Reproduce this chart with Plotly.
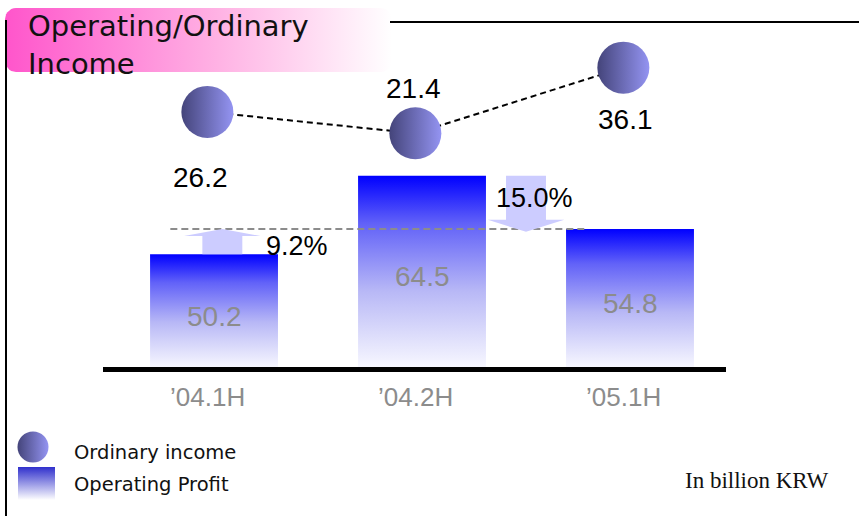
import numpy as np
import plotly.graph_objects as go

# ---------------- data ----------------
categories = ["’04.1H", "’04.2H", "’05.1H"]
operating_profit = [50.2, 64.5, 54.8]
ordinary_income = [26.2, 21.4, 36.1]
change_labels = ["9.2%", "15.0%"]
title_text = "Operating/Ordinary<br>Income"
legend_labels = ["Ordinary income", "Operating Profit"]
unit_text = "In billion KRW"

# ---------------- geometry / style ----------------
W, H = 859, 516
BASE = 29.5                 # bar floor value on main y axis
X_RANGE = [-1.029, 3.101]
Y_RANGE = [2.54, 96.53]
Y2_RANGE = [-64.2, 51.23]
BAR_W = 0.615
CIRCLE_DX = -0.032
NUM_FONT = "Liberation Sans, Arial, sans-serif"
TXT_FONT = "DejaVu Sans, sans-serif"

BAR_SCALE = [[0, "#F8F8FF"], [0.4, "#B8B8F6"], [0.75, "#6262F8"], [1, "#0000FF"]]
ARROW_COLOR = "#CCCCFF"
SPHERE_LIGHT = "#9494F2"
SPHERE_DARK = "#44447A"


def px(x):
    return x / W


def py(y):
    return 1 - y / H


fig = go.Figure()

# bars (gradient filled)
for i, v in enumerate(operating_profit):
    fig.add_trace(go.Scatter(
        x=[i - BAR_W / 2, i + BAR_W / 2, i + BAR_W / 2, i - BAR_W / 2, i - BAR_W / 2],
        y=[BASE, BASE, v, v, BASE],
        fill="toself", mode="lines", line=dict(width=0),
        fillgradient=dict(type="vertical", colorscale=BAR_SCALE, start=BASE, stop=v),
        hoverinfo="skip", showlegend=False))

# reference dashed line at last period level
fig.add_trace(go.Scatter(
    x=[-0.21, 1.78], y=[operating_profit[2]] * 2, mode="lines",
    line=dict(color="#8C8C8C", width=2, dash="7px,4px"),
    hoverinfo="skip", showlegend=False))


def arrow(cx, y_from, y_tip, head_h, sh=0.096, hw=0.184):
    d = 1 if y_tip > y_from else -1
    yb = y_tip - d * head_h
    xs = [cx - sh, cx + sh, cx + sh, cx + hw, cx, cx - hw, cx - sh, cx - sh]
    ys = [y_from, y_from, yb, yb, y_tip, yb, yb, y_from]
    return go.Scatter(x=xs, y=ys, fill="toself", mode="lines", line=dict(width=0),
                      fillcolor=ARROW_COLOR, hoverinfo="skip", showlegend=False)


fig.add_trace(arrow(0.04, operating_profit[0], operating_profit[2], 1.27))
fig.add_trace(arrow(1.5, operating_profit[1], operating_profit[2] - 0.5, 2.2))

# ordinary income spheres (gradient: dark left -> light right)
fig.add_trace(go.Scatter(
    x=[i + CIRCLE_DX for i in range(len(categories))], y=ordinary_income, yaxis="y2",
    mode="lines+markers",
    line=dict(color="black", width=2, dash="6px,4px"),
    marker=dict(size=52, color=SPHERE_DARK,
                gradient=dict(type="horizontal", color=SPHERE_LIGHT),
                line=dict(width=0)),
    hoverinfo="skip", showlegend=False))

# ---------------- decorations on pixel overlay axes ----------------
# title box with rounded corners
x0, x1, y0, y1, r = 5, 392, 8, 72, 11
t = np.linspace(0, np.pi / 2, 8)
bx, by = [], []
for cx, cy, a0 in [(x1 - r, y0 + r, -np.pi / 2), (x1 - r, y1 - r, 0),
                   (x0 + r, y1 - r, np.pi / 2), (x0 + r, y0 + r, np.pi)]:
    bx += list(cx + r * np.cos(a0 + t))
    by += list(cy + r * np.sin(a0 + t))
bx.append(bx[0]); by.append(by[0])
fig.add_trace(go.Scatter(
    x=bx, y=by, xaxis="x3", yaxis="y3", fill="toself", mode="lines", line=dict(width=0),
    fillgradient=dict(type="horizontal",
                      colorscale=[[0, "#FF55CB"], [0.55, "#FFB2E4"], [1, "#FFFFFF"]],
                      start=x0, stop=x1),
    hoverinfo="skip", showlegend=False))

# legend symbols
fig.add_trace(go.Scatter(
    x=[33], y=[447], xaxis="x3", yaxis="y3", mode="markers",
    marker=dict(size=31, color=SPHERE_DARK, gradient=dict(type="horizontal", color=SPHERE_LIGHT),
                line=dict(width=0)),
    hoverinfo="skip", showlegend=False))
fig.add_trace(go.Scatter(
    x=[18, 55, 55, 18, 18], y=[467, 467, 500, 500, 467], xaxis="x3", yaxis="y3",
    fill="toself", mode="lines", line=dict(width=0),
    fillgradient=dict(type="vertical", colorscale=[[0, "#FFFFFF"], [1, "#3030CC"]],
                      start=500, stop=467),
    hoverinfo="skip", showlegend=False))

shapes = [
    dict(type="line", xref="paper", yref="paper", x0=px(6), x1=px(6), y0=py(20), y1=py(516),
         line=dict(color="black", width=2)),
    dict(type="line", xref="paper", yref="paper", x0=px(390), x1=px(859), y0=py(22), y1=py(22),
         line=dict(color="black", width=2)),
    dict(type="line", xref="paper", yref="paper", x0=px(103), x1=px(726), y0=py(369.5), y1=py(369.5),
         line=dict(color="black", width=5)),
]

annotations = []
# title
annotations.append(dict(xref="paper", yref="paper", x=px(26), y=py(7), xanchor="left", yanchor="top",
                        text=title_text, showarrow=False, align="left",
                        font=dict(family=TXT_FONT, size=29, color="#111111")))
# category labels
for i, c in enumerate(categories):
    annotations.append(dict(x=i - 0.03, y=BASE, yshift=-29, text=c, showarrow=False,
                            font=dict(family=NUM_FONT, size=26, color="#8C8C8C")))
# bar values
for i, v in enumerate(operating_profit):
    annotations.append(dict(x=i, y=(BASE + v) / 2, yshift=-5, text=f"{v:.1f}", showarrow=False,
                            font=dict(family=NUM_FONT, size=28, color="#8C8C8C")))
# circle values
circle_shift = [-66, 45, -52]
circle_dx = [-0.035, -0.01, 0.01]
for i, v in enumerate(ordinary_income):
    annotations.append(dict(x=i + CIRCLE_DX + circle_dx[i], y=v, yref="y2", yshift=circle_shift[i],
                            text=f"{v:.1f}", showarrow=False,
                            font=dict(family=NUM_FONT, size=28, color="black")))
# change labels
annotations.append(dict(x=0.40, y=(operating_profit[0] + operating_profit[2]) / 2, yshift=-4,
                        text=change_labels[0], showarrow=False,
                        font=dict(family=NUM_FONT, size=27, color="black")))
annotations.append(dict(x=1.54, y=(operating_profit[1] + operating_profit[2]) / 2, yshift=4,
                        text=change_labels[1], showarrow=False,
                        font=dict(family=NUM_FONT, size=27, color="black")))
# legend labels
for lbl, yy in zip(legend_labels, [452, 484]):
    annotations.append(dict(xref="paper", yref="paper", x=px(72), y=py(yy), xanchor="left",
                            yanchor="middle", text=lbl, showarrow=False,
                            font=dict(family=TXT_FONT, size=19.5, color="#111111")))
# unit
annotations.append(dict(xref="paper", yref="paper", x=px(756), y=py(480), xanchor="center",
                        yanchor="middle", text=unit_text, showarrow=False,
                        font=dict(family="Liberation Serif, Times New Roman, serif",
                                  size=23, color="#111111")))

fig.update_layout(
    width=W, height=H, autosize=False,
    margin=dict(l=0, r=0, t=0, b=0),
    paper_bgcolor="white", plot_bgcolor="white",
    xaxis=dict(range=X_RANGE, visible=False, fixedrange=True),
    yaxis=dict(range=Y_RANGE, visible=False, fixedrange=True),
    yaxis2=dict(range=Y2_RANGE, overlaying="y", visible=False, fixedrange=True),
    xaxis3=dict(range=[0, W], overlaying="x", visible=False, fixedrange=True),
    yaxis3=dict(range=[H, 0], overlaying="y", visible=False, fixedrange=True),
    shapes=shapes, annotations=annotations, showlegend=False,
)

fig.write_html("out.html", config={"displayModeBar": False},
               post_script="document.body.style.margin='0';document.body.style.overflow='hidden';")
